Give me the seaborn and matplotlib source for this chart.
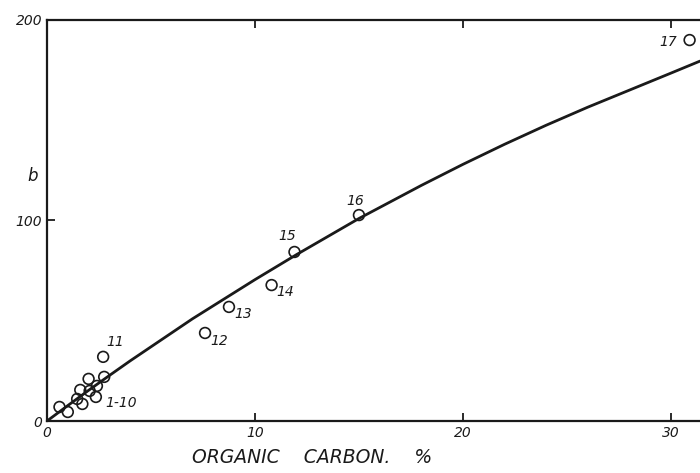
import numpy as np
import pandas as pd
import matplotlib
matplotlib.use("Agg")
import matplotlib.pyplot as plt
import seaborn as sns

# measured points (organic carbon %, b)
carbon = [0.6, 1.0, 1.45, 1.6, 1.7, 2.0, 2.05, 2.35, 2.4, 2.75,
          2.7, 7.6, 8.75, 10.8, 11.9, 15.0, 30.9]
b_vals = [7.0, 4.5, 11.0, 15.5, 8.5, 21.0, 15.0, 12.0, 17.5, 22.0,
          32.0, 43.9, 56.9, 67.8, 84.3, 102.7, 190.0]
sample = [str(i) for i in range(1, 18)]

# fitted curve
curve_x = [0, 1, 2, 3, 4, 5, 6, 7, 8, 9, 10, 12, 14, 15, 16, 18, 20,
           22, 24, 26, 28, 30, 31.4]
curve_y = [0, 7.7, 15.3, 22.7, 30, 37, 44, 51, 57.5, 64, 70.5, 83, 95,
           101, 106.5, 117.5, 128, 138, 147.5, 156.5, 165, 173.5, 179.5]

# label offsets in pixels, only for the labelled points
point_labels = {
    "11": ("11", 12, 15),
    "12": ("12", 14, -8),
    "13": ("13", 14, -7),
    "14": ("14", 14, -7),
    "15": ("15", -7, 16),
    "16": ("16", -4, 14),
    "17": ("17", -21, -2),
    "10": ("1-10", 17, -26),
}

sns.set_style("white")
plt.rcParams["font.family"] = ["DejaVu Sans"]
ink = "#1a1a1a"

fig = plt.figure(figsize=(7, 4.73), dpi=100)
ax = fig.add_axes([47 / 700, 52 / 473, 1 - 47 / 700, 401 / 473])

pts = pd.DataFrame({"carbon": carbon, "b": b_vals, "sample": sample})
curve = pd.DataFrame({"x": curve_x, "y": curve_y})

sns.lineplot(data=curve, x="x", y="y", color=ink, lw=2.0, ax=ax, sort=True)
sns.scatterplot(data=pts, x="carbon", y="b", marker="o", s=60,
                facecolor="none", edgecolor=ink, linewidth=1.2, ax=ax,
                zorder=3)

for _, row in pts.iterrows():
    if row["sample"] in point_labels:
        txt, dx, dy = point_labels[row["sample"]]
        ax.annotate(txt, (row["carbon"], row["b"]), xytext=(dx, dy),
                    textcoords="offset pixels", ha="center", va="center",
                    fontsize=10, style="italic", color=ink)

ax.set_xlim(0, 31.4)
ax.set_ylim(0, 200)
ax.set_xticks([0, 10, 20, 30])
ax.set_xticklabels(["0", "10", "20", "30"])
ax.set_yticks([0, 100, 200])
ax.set_yticklabels(["0", "100", "200"])
ax.tick_params(direction="in", length=6, width=1.3, colors=ink,
               labelsize=10, top=True, bottom=True, left=True, right=False)
for lab in ax.get_xticklabels() + ax.get_yticklabels():
    lab.set_style("italic")

for side in ["left", "bottom", "top"]:
    ax.spines[side].set_visible(True)
    ax.spines[side].set_color(ink)
    ax.spines[side].set_linewidth(1.6)
ax.spines["right"].set_visible(False)

ax.set_xlabel("ORGANIC    CARBON.    %", fontsize=13.5, style="italic",
              color=ink, va="center")
ax.xaxis.set_label_coords(0.406, -0.092)
ax.set_ylabel("b", fontsize=12, style="italic", color=ink, rotation=0,
              va="center")
ax.yaxis.set_label_coords(-0.022, 0.61)

fig.savefig("out.png", dpi=100)
